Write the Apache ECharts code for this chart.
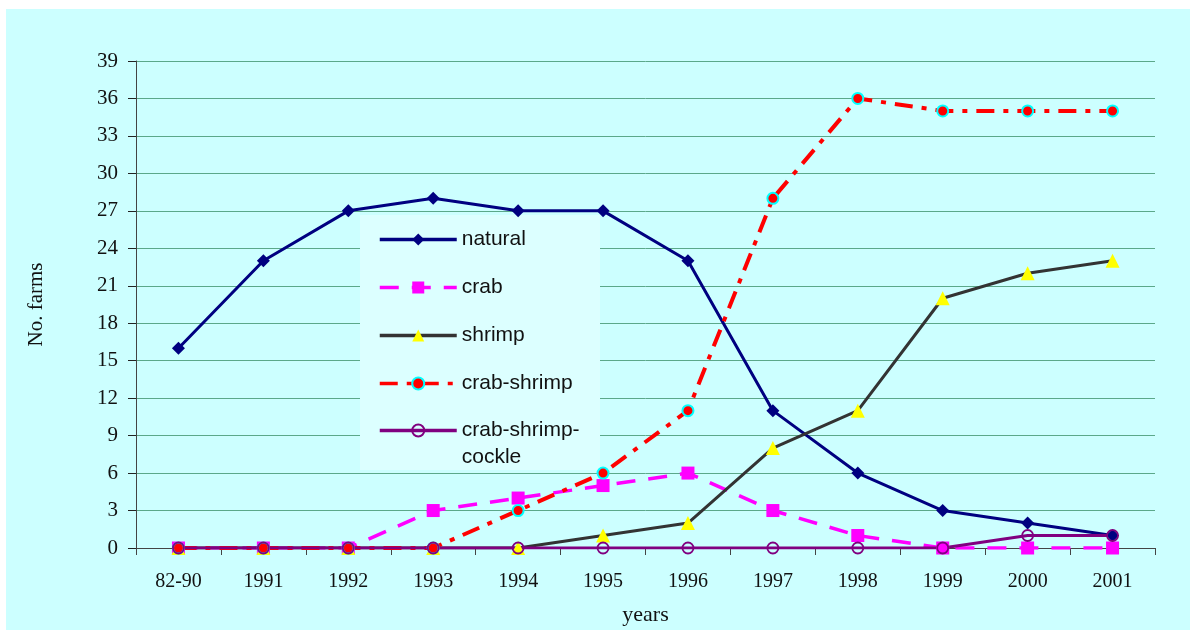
<!DOCTYPE html>
<html>
<head>
<meta charset="utf-8">
<script src="https://cdn.jsdelivr.net/npm/echarts@6/dist/echarts.min.js"></script>
<style>
  html, body { margin: 0; padding: 0; background: #fff; }
  #chart { width: 1192px; height: 632px; }
</style>
</head>
<body>
<div id="chart"></div>
<script>
// categories and series values
const years = ['82-90', '1991', '1992', '1993', '1994', '1995', '1996', '1997', '1998', '1999', '2000', '2001']
const natural = [16, 23, 27, 28, 27, 27, 23, 11, 6, 3, 2, 1]
const crab = [0, 0, 0, 3, 4, 5, 6, 3, 1, 0, 0, 0]
const shrimp = [0, 0, 0, 0, 0, 1, 2, 8, 11, 20, 22, 23]
const crabShrimp = [0, 0, 0, 0, 3, 6, 11, 28, 36, 35, 35, 35]
const crabShrimpCockle = [0, 0, 0, 0, 0, 0, 0, 0, 0, 0, 1, 1]

const serif = '"Liberation Serif", "Times New Roman", serif'
const sans = '"Liberation Sans", Arial, sans-serif'

// shared legend look
const legendBase = {
  orient: 'vertical',
  left: 378,
  padding: 0,
  itemWidth: 77,
  itemHeight: 15,
  itemGap: 21,
  lineStyle: { width: 3.5 },
  textStyle: { fontFamily: sans, fontSize: 21, color: '#111', lineHeight: 27 }
}

const chart = echarts.init(document.getElementById('chart'))
chart.setOption({
  backgroundColor: '#fff',
  animation: false,
  graphic: [
    {
      type: 'rect',
      z: -10,
      shape: { x: 6, y: 9, width: 1184, height: 621 },
      style: { fill: '#CCFFFF' }
    },
    {
      // legend box
      type: 'rect',
      z: 3,
      shape: { x: 360, y: 215, width: 240, height: 255 },
      style: { fill: '#DCFFFF' }
    }
  ],
  grid: { left: 136, right: 37, top: 61, bottom: 84, outerBoundsMode: 'none' },
  legend: [
    Object.assign({}, legendBase, {
      top: 226,
      data: ['natural', 'crab', 'shrimp', 'crab-shrimp']
    }),
    // two-line entry: blank first line keeps the icon on "crab-shrimp-"
    Object.assign({}, legendBase, {
      top: 390,
      data: ['crab-shrimp-cockle'],
      formatter: () => ' \ncrab-shrimp-\ncockle'
    })
  ],
  xAxis: {
    type: 'category',
    data: years,
    boundaryGap: true,
    name: 'years',
    nameLocation: 'middle',
    nameGap: 56,
    nameTextStyle: { fontFamily: serif, fontSize: 22, color: '#111' },
    axisLine: { lineStyle: { color: '#444', width: 1 } },
    axisTick: { show: true, length: 7, alignWithLabel: false, lineStyle: { color: '#444' } },
    axisLabel: { fontFamily: serif, fontSize: 20, color: '#111', margin: 24 }
  },
  yAxis: {
    type: 'value',
    min: 0,
    max: 39,
    interval: 3,
    name: 'No. farms',
    nameLocation: 'middle',
    nameGap: 89,
    nameRotate: 90,
    nameTextStyle: { fontFamily: serif, fontSize: 21, color: '#111' },
    axisLine: { show: true, lineStyle: { color: '#444', width: 1 } },
    axisTick: { show: true, length: 8, lineStyle: { color: '#222' } },
    axisLabel: { fontFamily: serif, fontSize: 21, color: '#111', margin: 18 },
    splitLine: { lineStyle: { color: '#5BA88A', width: 1 } }
  },
  series: [
    {
      name: 'natural',
      type: 'line',
      data: natural,
      symbol: 'diamond',
      symbolSize: 13,
      lineStyle: { color: '#000080', width: 3 },
      itemStyle: { color: '#000080' }
    },
    {
      name: 'crab',
      type: 'line',
      data: crab,
      symbol: 'rect',
      symbolSize: 13,
      lineStyle: { color: '#FF00FF', width: 3.5, type: [19, 13] },
      itemStyle: { color: '#FF00FF' }
    },
    {
      name: 'shrimp',
      type: 'line',
      data: shrimp,
      symbol: 'triangle',
      symbolSize: 14,
      lineStyle: { color: '#333333', width: 3 },
      itemStyle: { color: '#FFFF00' }
    },
    {
      name: 'crab-shrimp',
      type: 'line',
      data: crabShrimp,
      symbol: 'circle',
      symbolSize: 11,
      lineStyle: { color: '#FF0000', width: 4, type: [18, 9, 5, 9] },
      itemStyle: { color: '#FF0000', borderColor: '#00FFFF', borderWidth: 2 }
    },
    {
      name: 'crab-shrimp-cockle',
      type: 'line',
      data: crabShrimpCockle,
      symbol: 'circle',
      symbolSize: 11,
      lineStyle: { color: '#800080', width: 3 },
      itemStyle: { color: 'rgba(0,0,0,0)', borderColor: '#800080', borderWidth: 1.8 }
    }
  ]
})
</script>
</body>
</html>
